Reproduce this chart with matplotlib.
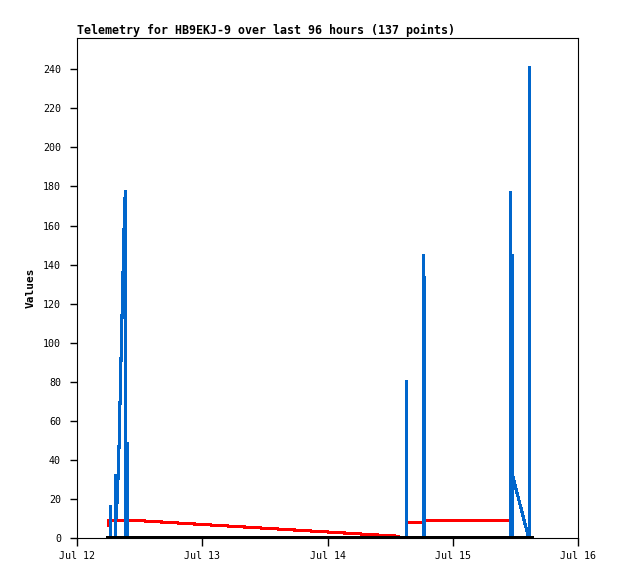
import numpy as np
import matplotlib
matplotlib.use("Agg")
import matplotlib.pyplot as plt

# ---- data (hours since Jul 12 00:00) ----
blue_hours = [6.0, 6.44, 6.44, 6.44, 7.42, 7.42, 7.6, 7.75, 7.9, 8.07, 8.24, 8.41, 8.58,
              8.75, 8.92, 9.09, 9.26, 9.36, 9.36, 9.62, 9.62, 9.62,
              63.22, 63.22, 63.22,
              66.4, 66.4, 66.52, 66.52,
              83.1, 83.1, 83.1, 83.42, 83.42, 83.5, 86.45,
              86.62, 86.75, 86.75, 86.75]
blue_values = [0, 0, 16.6, 0, 0, 32.5, 10, 30, 30, 49, 69.2, 88.8, 108.4,
               128, 147.6, 167.2, 177.5, 177.5, 0, 0, 48.7, 0,
               0, 80.6, 0,
               0, 145.1, 128.9, 0,
               0, 177.5, 0, 0, 145, 31.6, 1.0,
               0, 0, 241.4, 0]

red_hours = [6.0, 6.05, 9.8, 10.5, 61.6, np.nan, 63.25, 66.4, 66.5, 83.0]
red_values = [6.3, 9.0, 9.0, 9.1, 0.9, np.nan, 8.1, 8.1, 9.1, 9.1]

black_hours = [6.0, 87.1]
black_values = [0, 0]

x_ticks = [0, 24, 48, 72, 96]
x_labels = ["Jul 12", "Jul 13", "Jul 14", "Jul 15", "Jul 16"]
y_ticks = list(range(0, 241, 20))

title = "Telemetry for HB9EKJ-9 over last 96 hours (137 points)"

plt.rcParams['font.family'] = ['DejaVu Sans Mono']
plt.rcParams['path.simplify'] = False

fig = plt.figure(figsize=(6.18, 5.79), dpi=100)
ax = fig.add_axes([77/618, 1-538/579, 501/618, 500/579])

lw = 1.5
ax.plot(red_hours, red_values, color='#ff0000', lw=lw, antialiased=False,
        solid_joinstyle='bevel', zorder=2)
ax.plot(blue_hours, blue_values, color='#0066cc', lw=lw, antialiased=False,
        solid_joinstyle='bevel', zorder=3)
ax.plot(black_hours, black_values, color='#000000', lw=lw, antialiased=False, zorder=4)

ax.set_xlim(0, 96)
ax.set_ylim(0, 256)
ax.set_xticks(x_ticks)
ax.set_xticklabels(x_labels)
ax.set_yticks(y_ticks)

ax.tick_params(axis='y', direction='out', length=5, width=1.0, pad=6.5, labelsize=7.2)
ax.tick_params(axis='x', direction='out', length=6, width=1.0, pad=3.5, labelsize=7.2)

for s in ax.spines.values():
    s.set_linewidth(0.8)
    s.set_color('#000000')

ax.set_title(title, loc='left', fontsize=8.4, fontweight='bold', pad=3)
ax.set_ylabel("Values", fontsize=8, fontweight='bold')
ax.yaxis.set_label_coords(-41/501, 0.5)

fig.savefig("out.png", dpi=100, facecolor='white')
